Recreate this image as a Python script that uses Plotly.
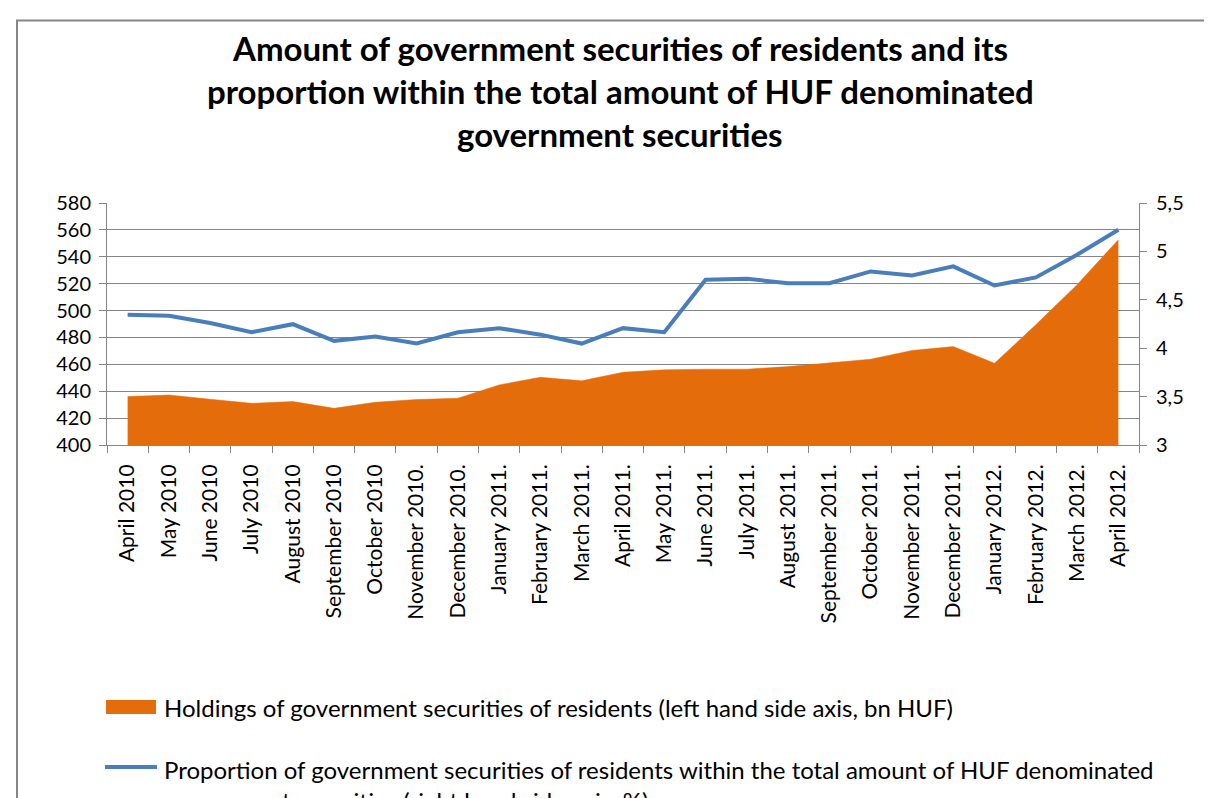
import plotly.graph_objects as go

# ---------------- data ----------------
months = ["April 2010", "May 2010", "June 2010", "July 2010", "August 2010",
          "September 2010", "October 2010", "November 2010.", "December 2010.",
          "January 2011.", "February 2011.", "March 2011.", "April 2011.",
          "May 2011.", "June 2011.", "July 2011.", "August 2011.",
          "September 2011.", "October 2011.", "November 2011.", "December 2011.",
          "January 2012.", "February 2012.", "March 2012.", "April 2012."]

holdings = [436.0, 437.2, 434.0, 431.0, 432.3, 427.3, 431.8, 433.8, 434.8,
            444.7, 450.4, 447.7, 454.1, 455.9, 456.4, 456.4, 458.3, 461.3,
            463.8, 470.3, 473.2, 460.8, 489.4, 519.2, 552.7]

proportion = [4.345, 4.334, 4.26, 4.165, 4.248, 4.076, 4.12, 4.048, 4.165,
              4.207, 4.14, 4.048, 4.207, 4.165, 4.707, 4.717, 4.672, 4.672,
              4.793, 4.752, 4.845, 4.648, 4.731, 4.965, 5.224]

title_lines = ["Amount of government securities of residents and its",
               "proportion within the total amount of HUF denominated",
               "government securities"]
legend_holdings = "Holdings of government securities of residents (left hand side axis, bn HUF)"
legend_prop_lines = ["Proportion of government securities of residents within the total amount of HUF denominated",
                     "government securities (right hand side axis, %)"]

# ---------------- layout geometry ----------------
W, H = 1212, 798
X0, X1 = 99, 1131      # plot area left/right (px)
Y0, Y1 = 195, 437      # plot area top/bottom (px)

def px(x):
    return (x - X0) / (X1 - X0)

def py(y):
    return (Y1 - y) / (Y1 - Y0)

ORANGE = "#E46C0A"
BLUE = "#4A7EBB"
GRAY = "#868686"
FONT = "Lato, Open Sans, sans-serif"

fig = go.Figure()
fig.add_trace(go.Scatter(x=months, y=holdings, mode="lines", fill="tozeroy",
                         fillcolor=ORANGE, line=dict(color=ORANGE, width=0.5),
                         name=legend_holdings, yaxis="y"))
fig.add_trace(go.Scatter(x=months, y=proportion, mode="lines",
                         line=dict(color=BLUE, width=4),
                         name=" ".join(legend_prop_lines), yaxis="y2"))

annotations = []
for i, t in enumerate(title_lines):
    annotations.append(dict(text="<b>" + t + "</b>", x=px(612), y=py(40 + 43 * i),
                            xref="paper", yref="paper", showarrow=False,
                            xanchor="center", yanchor="middle",
                            font=dict(family=FONT, size=33, color="#000000")))
annotations.append(dict(text=legend_holdings, x=px(154), y=py(699), xref="paper", yref="paper",
                        showarrow=False, xanchor="left", yanchor="middle",
                        font=dict(family=FONT, size=24, color="#000000")))
for i, t in enumerate(legend_prop_lines):
    annotations.append(dict(text=t, x=px(154), y=py(761 + 31 * i), xref="paper", yref="paper",
                            showarrow=False, xanchor="left", yanchor="middle",
                            font=dict(family=FONT, size=24, color="#000000")))

shapes = [
    # outer chart frame
    dict(type="rect", xref="paper", yref="paper", x0=px(9), x1=px(1240), y0=py(12.5), y1=py(830),
         line=dict(color=GRAY, width=2), fillcolor="rgba(0,0,0,0)", layer="below"),
    # legend symbols
    dict(type="rect", xref="paper", yref="paper", x0=px(98), x1=px(148), y0=py(706), y1=py(692),
         line=dict(width=0), fillcolor=ORANGE),
    dict(type="line", xref="paper", yref="paper", x0=px(97), x1=px(149), y0=py(759), y1=py(759),
         line=dict(color=BLUE, width=4)),
]

fig.update_layout(
    width=W, height=H,
    margin=dict(l=X0, r=W - X1, t=Y0, b=H - Y1, autoexpand=False),
    paper_bgcolor="white", plot_bgcolor="white",
    showlegend=False,
    separators=", ",
    font=dict(family=FONT, size=20, color="#000000"),
    xaxis=dict(type="category", range=[-0.5, len(months) - 0.5],
               showgrid=False, showline=True, linecolor=GRAY, linewidth=1,
               ticks="outside", tickson="boundaries", ticklen=7, tickcolor=GRAY,
               tickangle=-90, tickfont=dict(family=FONT, size=21, color="#000000"),
               ticklabelstandoff=10),
    yaxis=dict(range=[400, 580], dtick=20, tick0=400, showgrid=True, gridcolor=GRAY, gridwidth=1,
               showline=True, linecolor=GRAY, linewidth=1, ticks="outside", ticklen=7,
               tickcolor=GRAY, zeroline=False, tickfont=dict(family=FONT, size=20, color="#000000"),
               ticklabelstandoff=4),
    yaxis2=dict(range=[3, 5.5], dtick=0.5, tick0=3, overlaying="y", side="right",
                showgrid=False, showline=True, linecolor=GRAY, linewidth=1, ticks="outside",
                ticklen=7, tickcolor=GRAY, zeroline=False,
                tickfont=dict(family=FONT, size=20, color="#000000"), ticklabelstandoff=5),
    annotations=annotations,
    shapes=shapes,
)

fig.write_html("out.html")
